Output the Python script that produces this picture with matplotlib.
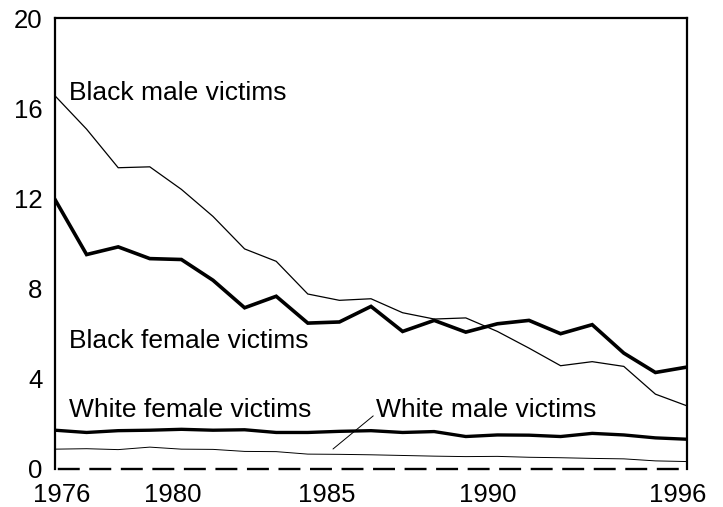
import matplotlib
matplotlib.use("Agg")
import matplotlib.pyplot as plt
import matplotlib.transforms as mtransforms

plt.rcParams['font.family'] = ['Liberation Sans', 'DejaVu Sans']
plt.rcParams['lines.scale_dashes'] = False

years = list(range(1976, 1997))
black_male = [16.55, 15.07, 13.36, 13.4, 12.4, 11.2, 9.76, 9.21, 7.76, 7.48, 7.55,
              6.93, 6.65, 6.70, 6.10, 5.36, 4.58, 4.76, 4.55, 3.32, 2.80]
black_female = [11.95, 9.51, 9.85, 9.33, 9.29, 8.37, 7.15, 7.66, 6.47, 6.52, 7.21,
                6.10, 6.59, 6.07, 6.44, 6.59, 6.00, 6.40, 5.14, 4.28, 4.52]
white_female = [1.72, 1.62, 1.70, 1.72, 1.76, 1.72, 1.74, 1.62, 1.62, 1.67, 1.70,
                1.62, 1.66, 1.44, 1.51, 1.50, 1.44, 1.58, 1.51, 1.38, 1.32]
white_male = [0.88, 0.90, 0.86, 0.97, 0.88, 0.87, 0.78, 0.77, 0.66, 0.65, 0.63,
              0.60, 0.57, 0.55, 0.56, 0.52, 0.50, 0.47, 0.45, 0.36, 0.33]

xtick_vals = [1976, 1980, 1985, 1990, 1996]
xtick_labels = ['1976', '1980', '1985', '1990', '1996']
ytick_vals = [0, 4, 8, 12, 16, 20]
ytick_labels = ['0', '4', '8', '12', '16', '20']

fig = plt.figure(figsize=(7.23, 5.07), dpi=100)
ax = fig.add_axes([55/723, 1-469/507, (687-55)/723, (469-18)/507])

ax.plot(years, black_male, color='black', lw=0.9, solid_joinstyle='miter')
ax.plot(years, black_female, color='black', lw=2.6, solid_joinstyle='miter')
ax.plot(years, white_female, color='black', lw=2.4, solid_joinstyle='miter')
ax.plot(years, white_male, color='black', lw=0.7, solid_joinstyle='miter')

ax.set_xlim(1976, 1996)
ax.set_ylim(0, 20)

for s in ['left', 'top', 'right']:
    ax.spines[s].set_linewidth(1.6)
ax.spines['bottom'].set_visible(False)
ax.axhline(0, color='black', lw=1.7, ls=(-2.0, (15.8, 6.9)), clip_on=False)

ax.set_xticks(xtick_vals)
ax.set_xticklabels(xtick_labels)
ax.set_yticks(ytick_vals)
ax.set_yticklabels(ytick_labels)
ax.tick_params(axis='both', length=0, labelsize=18.5)
ax.tick_params(axis='y', pad=9)
ax.tick_params(axis='x', pad=10)

offsets_px = [7, -9, -13, -10, -9]
for lab, dx in zip(ax.get_xticklabels(), offsets_px):
    lab.set_transform(lab.get_transform() +
                      mtransforms.ScaledTranslation(dx/100, 0, fig.dpi_scale_trans))

fs = 19
ax.annotate('Black male victims', xy=(69, 507-100), xycoords='figure pixels',
            fontsize=fs, va='baseline', ha='left')
ax.annotate('Black female victims', xy=(69, 507-348), xycoords='figure pixels',
            fontsize=fs, va='baseline', ha='left')
ax.annotate('White female victims', xy=(69, 507-417), xycoords='figure pixels',
            fontsize=fs, va='baseline', ha='left')
ax.annotate('White male victims', xy=(333, 507-449), xycoords='figure pixels',
            xytext=(376, 507-417), textcoords='figure pixels',
            fontsize=fs, va='baseline', ha='left',
            arrowprops=dict(arrowstyle='-', lw=0.7, color='black',
                            shrinkA=0, shrinkB=0, relpos=(0, 0.35)))

fig.savefig('out.png', dpi=100)
